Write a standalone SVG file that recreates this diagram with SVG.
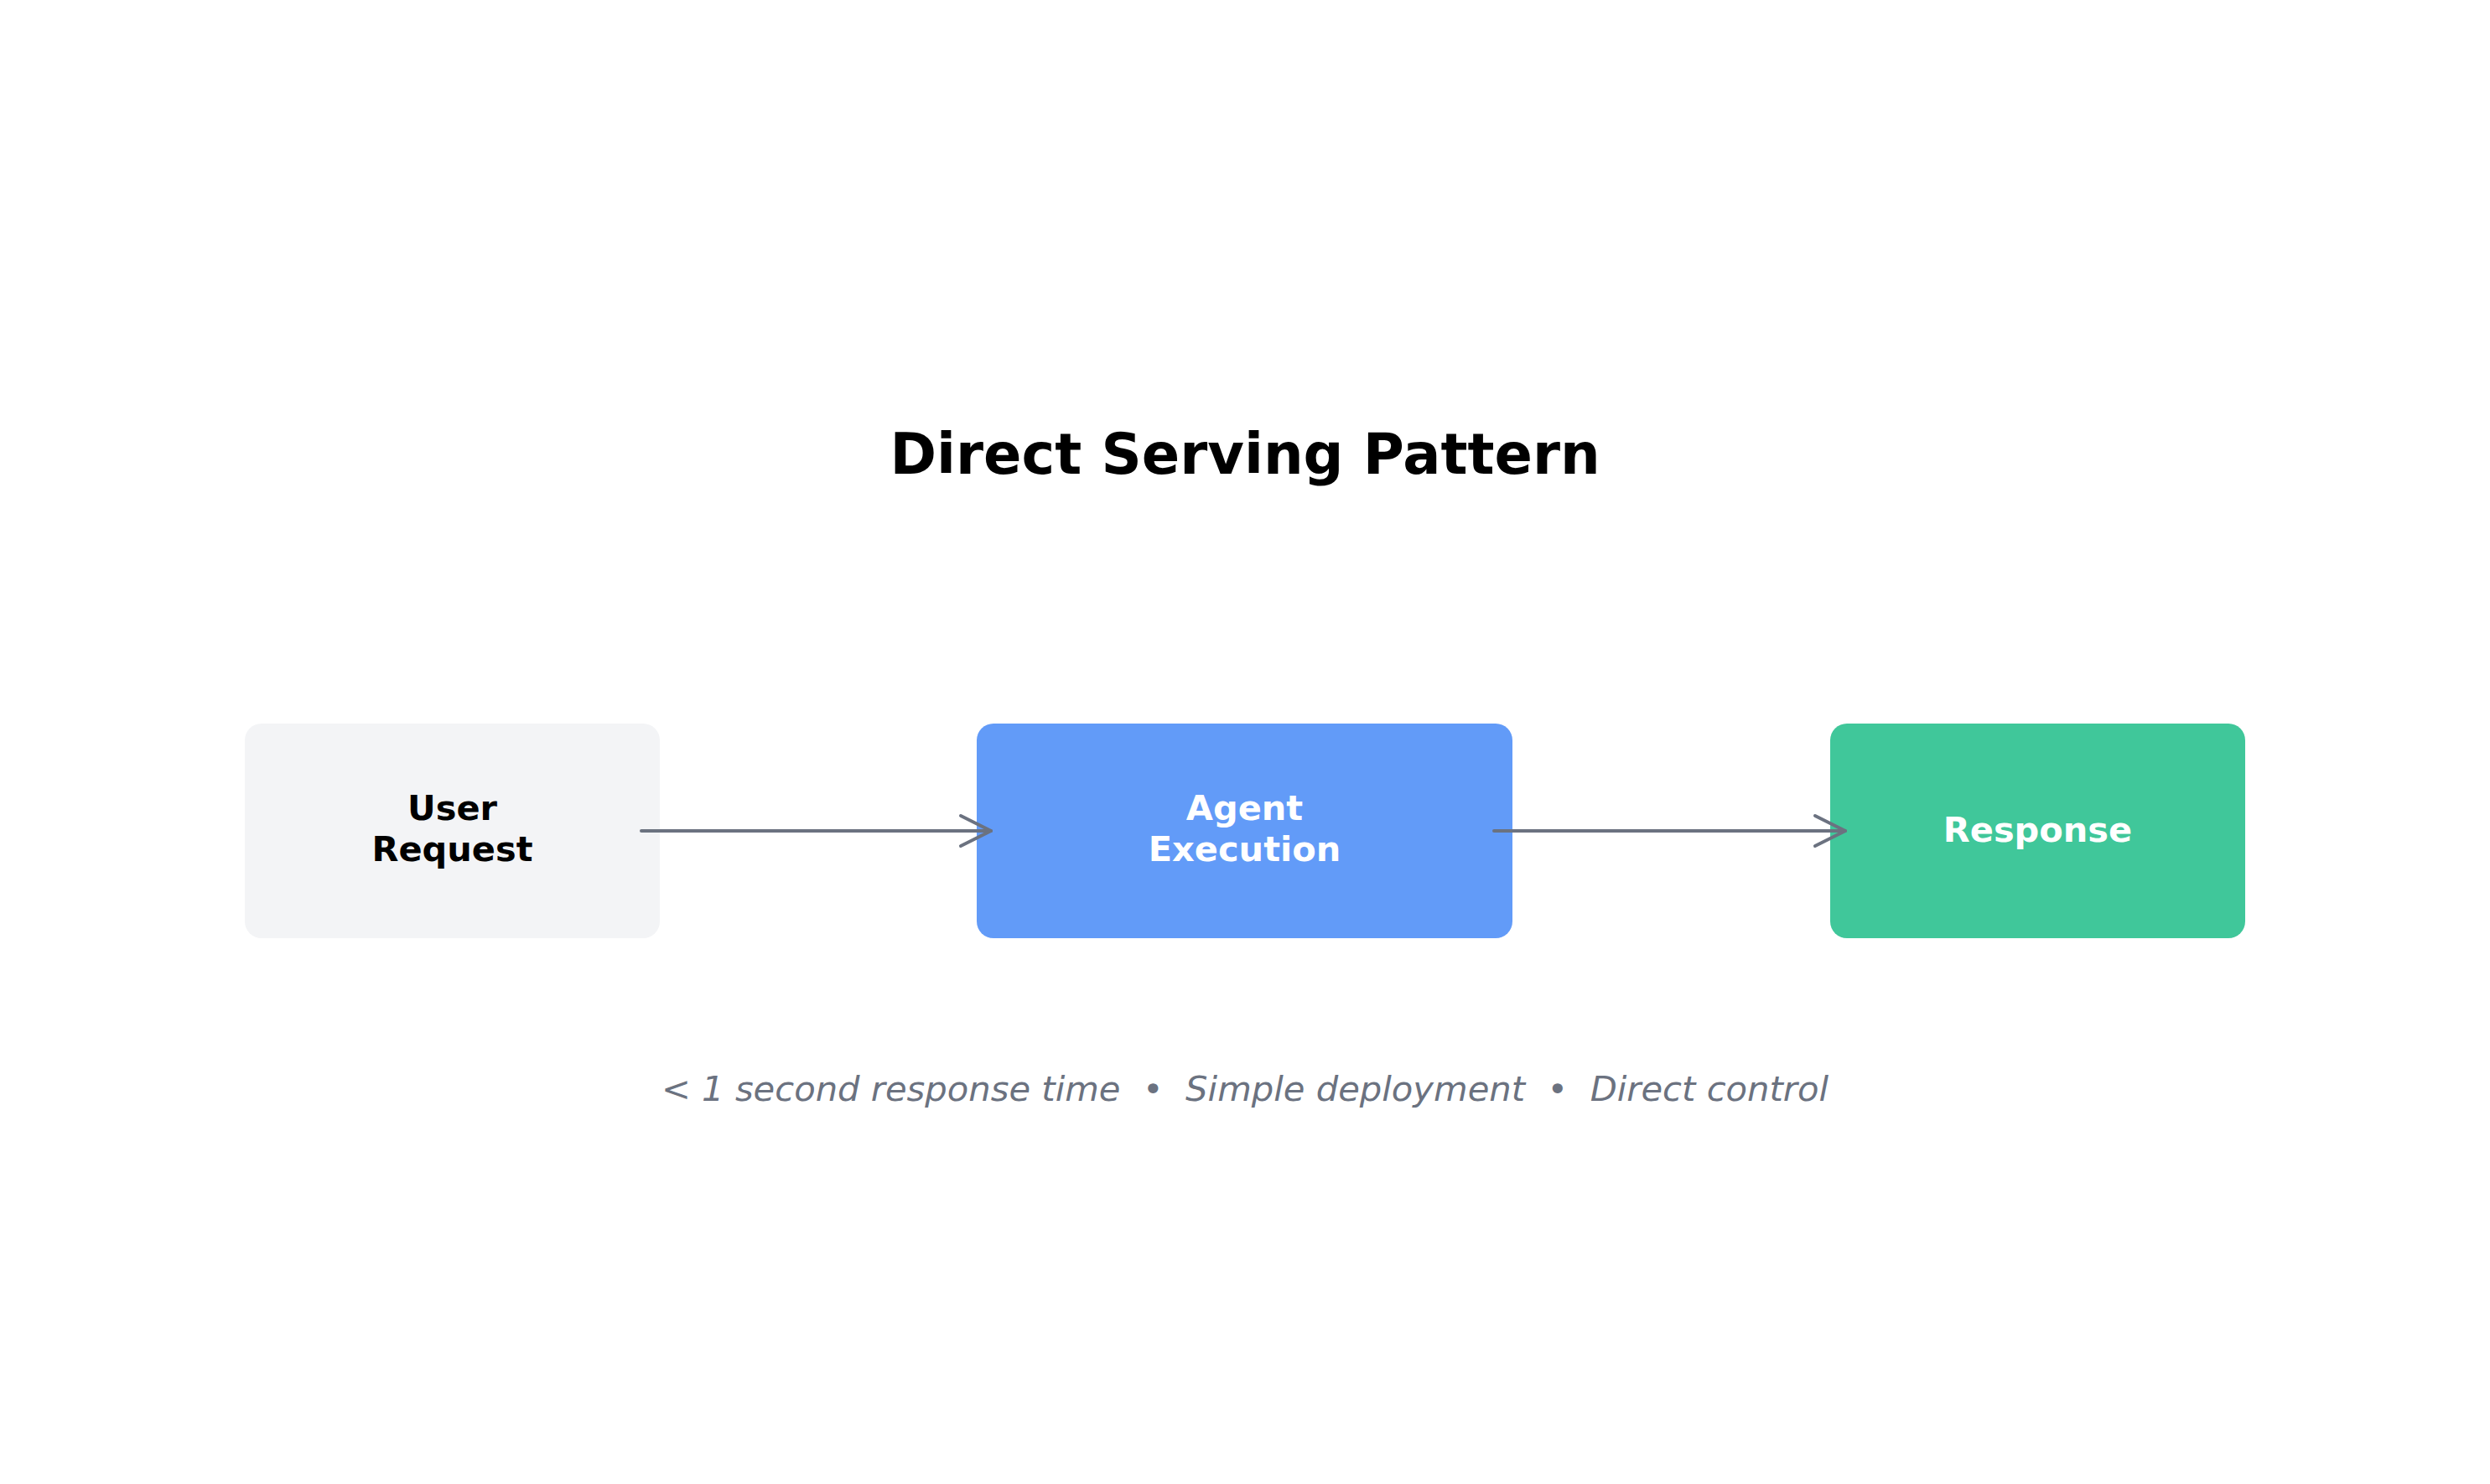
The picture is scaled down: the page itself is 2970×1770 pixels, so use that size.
<svg xmlns="http://www.w3.org/2000/svg" width="2970" height="1770" viewBox="0 0 2970 1770">
  <style>
    .title { font-family: "DejaVu Sans", sans-serif; font-weight: bold; font-size: 67px; fill: #000000; text-anchor: middle; }
    .label { font-family: "DejaVu Sans", sans-serif; font-weight: bold; font-size: 41.5px; text-anchor: middle; }
    .dark { fill: #000000; }
    .light { fill: #ffffff; }
    .caption { font-family: "DejaVu Sans", sans-serif; font-style: italic; font-size: 41.7px; fill: #6b7280; text-anchor: middle; }
    .edge { stroke: #6b7280; stroke-width: 4; stroke-linecap: round; fill: none; }
  </style>
  <defs>
    <marker id="chevron" markerUnits="userSpaceOnUse" viewBox="-42 -22 46 44" markerWidth="46" markerHeight="44" refX="0" refY="0" orient="auto" overflow="visible">
      <path d="M-36,-18 L0,0 L-36,18" fill="none" stroke="#6b7280" stroke-width="4" stroke-linecap="round" stroke-linejoin="round"/>
    </marker>
  </defs>
  <rect width="2970" height="1770" fill="#ffffff"/>
  <g id="title">
    <text class="title" x="1485" y="565">Direct Serving Pattern</text>
  </g>
  <g id="node-user-request">
    <rect x="292" y="863" width="495" height="256" rx="20" ry="20" fill="#f3f4f6"/>
    <text class="label dark" x="539.5" y="978">User</text>
    <text class="label dark" x="539.5" y="1027">Request</text>
  </g>
  <g id="node-agent-execution">
    <rect x="1165" y="863" width="639" height="256" rx="20" ry="20" fill="#629bf8"/>
    <text class="label light" x="1484.5" y="978">Agent</text>
    <text class="label light" x="1484.5" y="1027">Execution</text>
  </g>
  <g id="node-response">
    <rect x="2183" y="863" width="495" height="256" rx="20" ry="20" fill="#40c79a"/>
    <text class="label light" x="2430.5" y="1004">Response</text>
  </g>
  <g id="connectors">
    <line class="edge" x1="765" y1="991" x2="1182" y2="991" marker-end="url(#chevron)"/>
    <line class="edge" x1="1782" y1="991" x2="2201" y2="991" marker-end="url(#chevron)"/>
  </g>
  <g id="caption">
    <text class="caption" x="1485" y="1313" xml:space="preserve">&lt; 1 second response time  •  Simple deployment  •  Direct control</text>
  </g>
</svg>
